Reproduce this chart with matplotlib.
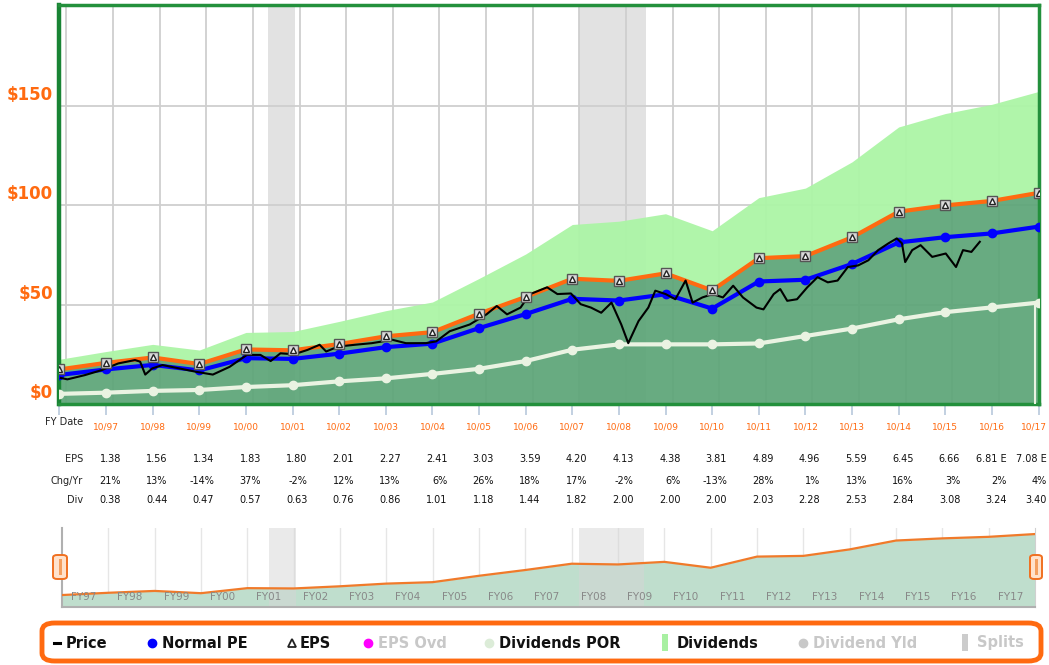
import matplotlib
matplotlib.use('Agg')
import matplotlib.pyplot as plt
from matplotlib.patches import FancyBboxPatch, Rectangle
from matplotlib.lines import Line2D
import matplotlib.transforms as mtransforms

# fiscal year ends
fy_labels = ['10/96', '10/97', '10/98', '10/99', '10/00', '10/01', '10/02', '10/03', '10/04', '10/05', '10/06',
             '10/07', '10/08', '10/09', '10/10', '10/11', '10/12', '10/13', '10/14', '10/15', '10/16', '10/17']
eps = [1.16, 1.38, 1.56, 1.34, 1.83, 1.80, 2.01, 2.27, 2.41, 3.03, 3.59,
       4.20, 4.13, 4.38, 3.81, 4.89, 4.96, 5.59, 6.45, 6.66, 6.81, 7.08]
div = [0.34, 0.38, 0.44, 0.47, 0.57, 0.63, 0.76, 0.86, 1.01, 1.18, 1.44,
       1.82, 2.00, 2.00, 2.00, 2.03, 2.28, 2.53, 2.84, 3.08, 3.24, 3.40]
graph_pe = 15.0
normal_pe = 12.6

# table rows (10/97 .. 10/17)
eps_text = ['1.38', '1.56', '1.34', '1.83', '1.80', '2.01', '2.27', '2.41', '3.03', '3.59', '4.20',
            '4.13', '4.38', '3.81', '4.89', '4.96', '5.59', '6.45', '6.66', '6.81 E', '7.08 E']
chg_text = ['21%', '13%', '-14%', '37%', '-2%', '12%', '13%', '6%', '26%', '18%', '17%',
            '-2%', '6%', '-13%', '28%', '1%', '13%', '16%', '3%', '2%', '4%']
div_text = ['0.38', '0.44', '0.47', '0.57', '0.63', '0.76', '0.86', '1.01', '1.18', '1.44', '1.82',
            '2.00', '2.00', '2.00', '2.03', '2.28', '2.53', '2.84', '3.08', '3.24', '3.40']

# monthly-ish price (decimal year, $)
price_t = [1996.78, 1996.92, 1997.29, 1997.65, 1998.01, 1998.37, 1998.48, 1998.59, 1998.74, 1998.96,
           1999.32, 1999.68, 2000.04, 2000.40, 2000.77, 2001.06, 2001.28, 2001.49, 2001.78, 2002.07,
           2002.33, 2002.47, 2002.73, 2003.09, 2003.45, 2003.89, 2004.18, 2004.61, 2004.83, 2005.12,
           2005.55, 2005.91, 2006.13, 2006.35, 2006.64, 2006.79, 2006.85, 2007.21, 2007.43, 2007.72,
           2007.93, 2008.15, 2008.37, 2008.59, 2008.80, 2008.95, 2009.17, 2009.38, 2009.53, 2009.75,
           2009.96, 2010.18, 2010.33, 2010.54, 2010.76, 2010.98, 2011.20, 2011.41, 2011.70, 2011.85,
           2012.07, 2012.21, 2012.36, 2012.57, 2012.79, 2013.01, 2013.23, 2013.44, 2013.66, 2013.88,
           2014.10, 2014.31, 2014.53, 2014.71, 2014.82, 2014.89, 2015.04, 2015.22, 2015.47, 2015.76,
           2015.98, 2016.13, 2016.31, 2016.49]
price = [13.1, 12.4, 14.5, 17.0, 20.4, 22.1, 21.3, 14.8, 17.9, 19.6,
         17.9, 16.2, 14.8, 18.7, 24.7, 24.7, 21.6, 25.5, 25.0, 27.2,
         29.8, 26.4, 28.9, 29.8, 30.6, 32.3, 30.6, 30.6, 31.5, 36.6,
         40.0, 45.1, 49.3, 45.1, 48.5, 53.6, 55.3, 58.7, 55.3, 55.6,
         50.2, 48.5, 45.9, 51.0, 40.0, 30.6, 41.7, 48.5, 57.0, 55.3,
         52.7, 62.1, 51.0, 53.6, 55.3, 53.6, 59.5, 53.6, 48.5, 47.6,
         55.3, 57.8, 51.9, 52.7, 58.7, 63.8, 61.2, 62.1, 68.9, 69.7,
         72.3, 77.4, 80.8, 83.3, 80.8, 71.4, 77.4, 79.9, 74.0, 75.7,
         68.9, 77.4, 76.5, 81.6]

recessions = [(2001.22, 2001.80), (2007.90, 2009.32)]
mini_labels = ['FY97', 'FY98', 'FY99', 'FY00', 'FY01', 'FY02', 'FY03', 'FY04', 'FY05', 'FY06', 'FY07',
               'FY08', 'FY09', 'FY10', 'FY11', 'FY12', 'FY13', 'FY14', 'FY15', 'FY16', 'FY17']
y_ticks = [0, 50, 100, 150]

legend_items = [('dash', 'black', 'Price', '#111111', 54),
                ('dot', '#0000ff', 'Normal PE', '#111111', 152),
                ('tri', '#222222', 'EPS', '#111111', 292),
                ('dot', '#ff00ff', 'EPS Ovd', '#c8c8c8', 368),
                ('dot', '#dcecd8', 'Dividends POR', '#111111', 489),
                ('bar', '#a8f0a2', 'Dividends', '#111111', 665),
                ('dot', '#c8c8c8', 'Dividend Yld', '#c8c8c8', 803),
                ('bar', '#cccccc', 'Splits', '#c8c8c8', 965)]

W, H = 1049, 665
ORANGE = '#ff6a10'
GREEN_EDGE = '#23903c'


def to_year(label):
    m, y = label.split('/')
    y = int(y)
    y = 1900 + y if y > 50 else 2000 + y
    return y + (int(m) - 1) / 12.0


fy = [to_year(s) for s in fy_labels]
orange_line = [e * graph_pe for e in eps]
normal_line = [e * normal_pe for e in eps]
por_line = [d * graph_pe for d in div]
div_top = [(e + d) * graph_pe for e, d in zip(eps, div)]

plt.rcParams['font.family'] = ['DejaVu Sans']
fig = plt.figure(figsize=(W / 100, H / 100), dpi=100)
fig.patch.set_facecolor('white')

# ---------------- main chart ----------------
ax = fig.add_axes([59 / W, (H - 404) / H, 980 / W, 399 / H])
ax.set_xlim(fy[0] - 0.01, fy[-1] + 0.01)
ax.set_ylim(0, 200.7)
ax.set_facecolor('white')

for t0, t1 in recessions:
    ax.axvspan(t0, t1, color='#e2e2e2', zorder=0.2, lw=0)
for k in range(len(fy) - 1):
    ax.axvline(fy[k] + 0.15, color='#cfcfcf', lw=1.3, zorder=0.5)
for v in y_ticks[1:]:
    ax.axhline(v, color='#cfcfcf', lw=1.3, zorder=0.5)

ax.fill_between(fy, orange_line, div_top, color='#acf5a6', lw=0, zorder=1, alpha=0.95)
ax.fill_between(fy, 0, orange_line, color='#5ea679', lw=0, zorder=1, alpha=0.94)

ax.plot(fy, por_line, color='#eaf3e2', lw=3, marker='o', ms=6, zorder=3)
ax.plot([fy[-1] - 0.08, fy[-1] - 0.08], [0, por_line[-1]], color='#eaf3e2', lw=1.5, zorder=3)
ax.plot(fy, normal_line, color='#0000ff', lw=3, marker='o', ms=6, zorder=4)
ax.plot(fy, orange_line, color='#ff6a10', lw=3, zorder=4)
ax.plot(price_t, price, color='black', lw=1.5, zorder=5)
ax.plot(fy, orange_line, ls='none', marker='s', ms=7.5, mfc='#d8d8d8', mec='#555555', mew=1, zorder=6)
ax.plot(fy, orange_line, ls='none', marker='^', ms=4, mfc='white', mec='#222222', mew=1, zorder=7)

for side, sp in ax.spines.items():
    sp.set_color(GREEN_EDGE)
    sp.set_linewidth(2.5)
ax.spines['left'].set_linewidth(3.2)
ax.spines['left'].set_color('#188434')

ax.set_yticks([])
ax.set_xticks(fy)
ax.set_xticklabels([''] + fy_labels[1:])
ax.tick_params(axis='x', length=8, width=1.2, color='#b8c8dc', labelcolor=ORANGE,
               labelsize=6.5, pad=5)
# last date label would run past the image edge, pull it inside
last = ax.get_xticklabels()[-1]
last.set_horizontalalignment('right')
last.set_transform(last.get_transform() + mtransforms.ScaledTranslation(8 / 100, 0, fig.dpi_scale_trans))

ylab = mtransforms.blended_transform_factory(fig.transFigure, ax.transData)
for v in y_ticks:
    ax.text(53 / W, v + 1.0, '$%d' % v, transform=ylab, ha='right', va='bottom',
            color=ORANGE, fontsize=12, fontweight='bold', clip_on=False)

# ---------------- data table ----------------
tbl = mtransforms.blended_transform_factory(ax.transData, fig.transFigure)
fig.text(83 / W, 1 - 422 / H, 'FY Date', ha='right', va='center', fontsize=7, color='#222222')
rows = [('EPS', eps_text, 459), ('Chg/Yr', chg_text, 481), ('Div', div_text, 500)]
for name, vals, ypx in rows:
    fig.text(83 / W, 1 - ypx / H, name, ha='right', va='center', fontsize=7, color='#222222')
    for i, (x, s) in enumerate(zip(fy[1:], vals)):
        if i == len(vals) - 1:
            # last column sits against the right edge of the image
            fig.text(1047 / W, 1 - ypx / H, s, ha='right', va='center', fontsize=7, color='#111111')
        else:
            ax.text(x + 0.32, 1 - ypx / H, s, transform=tbl, ha='right', va='center',
                    fontsize=7, color='#111111', clip_on=False)

# ---------------- navigator ----------------
mx = fig.add_axes([62 / W, (H - 607) / H, 973 / W, 79 / H])
mx.set_xlim(fy[0], fy[-1])
mx.set_ylim(0, 115)
for x in fy[1:-1]:
    mx.axvline(x, color='#e6e6e6', lw=1, zorder=0.5)
mx.fill_between(fy, 0, orange_line, color='#bfdecd', lw=0, zorder=1)
mx.plot(fy, orange_line, color='#f07a2a', lw=1.6, zorder=3)
for t0, t1 in recessions:
    mx.axvspan(t0, t1, color='#d6d6d6', alpha=0.5, lw=0, zorder=2)
for x, s in zip(fy[:-1], mini_labels):
    mx.text(x + 0.47, 15, s, ha='center', va='center', fontsize=7.5, color='#888888', zorder=4)
mx.set_xticks([])
mx.set_yticks([])
mx.spines['top'].set_visible(False)
for side in ['left', 'bottom']:
    mx.spines[side].set_color('#b0b0b0')
    mx.spines[side].set_linewidth(1.5)
mx.spines['right'].set_color('#d0d0d0')

for x0, x1 in [(53, 67), (1030, 1042)]:
    fig.patches.append(FancyBboxPatch((x0 / W, (H - 579) / H), (x1 - x0) / W, 24 / H,
                                      boxstyle='round,pad=0,rounding_size=0.004',
                                      transform=fig.transFigure, facecolor='#ffe2cc',
                                      edgecolor='#f07020', lw=1.4, zorder=5))
    fig.patches.append(Rectangle(((x0 + x1) / 2 / W - 1.5 / W, (H - 575) / H), 3 / W, 16 / H,
                                 transform=fig.transFigure, facecolor='#f4a060', lw=0, zorder=6))

# ---------------- legend ----------------
fig.patches.append(FancyBboxPatch((42 / W, (H - 661) / H), 999 / W, 38 / H,
                                  boxstyle='round,pad=0,rounding_size=0.012',
                                  transform=fig.transFigure, facecolor='white',
                                  edgecolor='#ff6a10', lw=3.5, zorder=1))
ly = (H - 643) / H
for kind, mcol, label, tcol, xpx in legend_items:
    if kind == 'dash':
        fig.lines.append(Line2D([xpx / W, (xpx + 6) / W], [ly, ly], color=mcol, lw=2.2,
                                transform=fig.transFigure, zorder=3))
        tx = xpx + 12
    elif kind == 'dot':
        fig.lines.append(Line2D([xpx / W], [ly], marker='o', ms=6, color=mcol, ls='none',
                                transform=fig.transFigure, zorder=3))
        tx = xpx + 10
    elif kind == 'tri':
        fig.lines.append(Line2D([xpx / W], [ly], marker='^', ms=6, mfc='white', mec=mcol, mew=1.3,
                                ls='none', transform=fig.transFigure, zorder=3))
        tx = xpx + 8
    else:
        fig.patches.append(Rectangle(((xpx - 3) / W, ly - 8 / H), 6 / W, 17 / H, facecolor=mcol,
                                     lw=0, transform=fig.transFigure, zorder=3))
        tx = xpx + 12
    fig.text(tx / W, ly, label, ha='left', va='center', fontsize=10.5, fontweight='bold',
             color=tcol, zorder=4)

fig.savefig('out.png', dpi=100, facecolor='white')
